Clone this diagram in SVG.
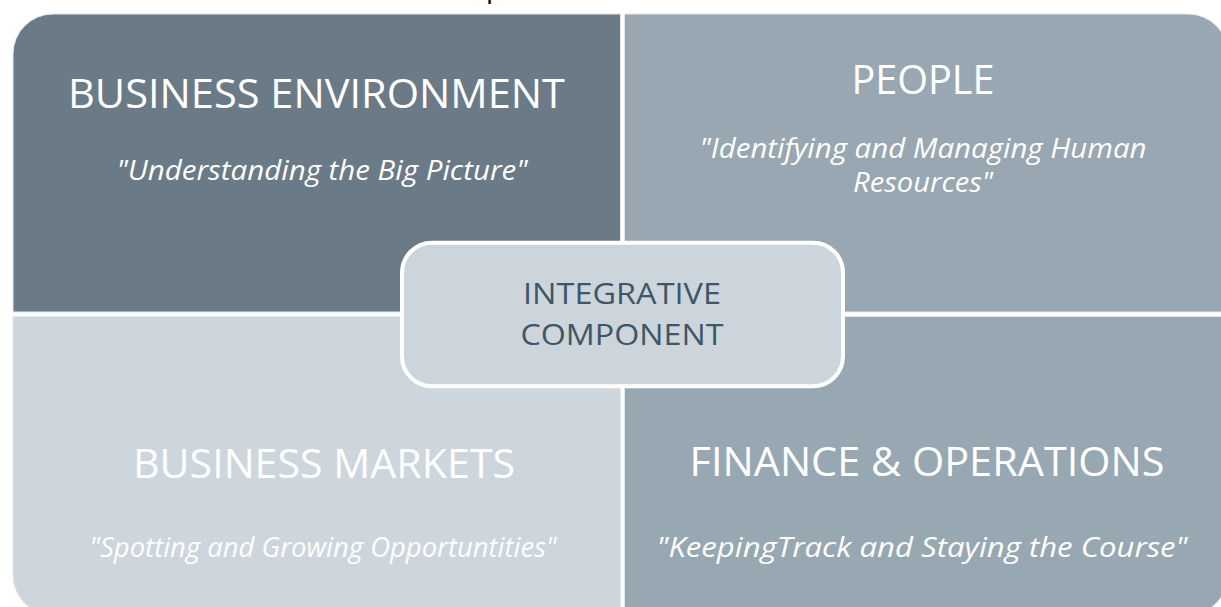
<svg xmlns="http://www.w3.org/2000/svg" width="1221" height="607" viewBox="0 0 1221 607">
  <style>
    .title { font-family: "Open Sans", "Liberation Sans", sans-serif; font-size: 41px; fill: #ffffff; text-anchor: middle; }
    .quote { font-family: "Open Sans", "Liberation Sans", sans-serif; font-size: 27px; font-style: italic; fill: #ffffff; text-anchor: middle; }
    .core { font-family: "Open Sans", "Liberation Sans", sans-serif; font-size: 30px; fill: #3f5666; text-anchor: middle; }
    .quad { stroke: #e3e8ec; stroke-width: 1; }
  </style>
  <rect width="1221" height="607" fill="#ffffff"/>
  <!-- heading above the grid, clipped by the top edge -->
  <text x="486" y="-3" font-family="Open Sans, Liberation Sans, sans-serif" font-size="28" fill="#000000">p</text>

  <!-- top-left quadrant -->
  <g id="business-environment">
    <path class="quad" d="M13,54 A40,40 0 0 1 53,14 L620.5,14 L620.5,312 L13,312 Z" fill="#6b7a87"/>
    <text class="title" x="316.5" y="108" textLength="497" lengthAdjust="spacingAndGlyphs">BUSINESS ENVIRONMENT</text>
    <text class="quote" x="322" y="180" textLength="411" lengthAdjust="spacingAndGlyphs">"Understanding the Big Picture"</text>
  </g>

  <!-- top-right quadrant -->
  <g id="people">
    <path class="quad" d="M624.5,14 L1188,14 A40,40 0 0 1 1228,54 L1228,312 L624.5,312 Z" fill="#98a7b1"/>
    <text class="title" x="923" y="94" textLength="143" lengthAdjust="spacingAndGlyphs">PEOPLE</text>
    <text class="quote" x="923" y="158" textLength="447" lengthAdjust="spacingAndGlyphs">"Identifying and Managing Human</text>
    <text class="quote" x="923" y="192" textLength="140" lengthAdjust="spacingAndGlyphs">Resources"</text>
  </g>

  <!-- bottom-left quadrant -->
  <g id="business-markets">
    <path class="quad" d="M13,316.5 L620.5,316.5 L620.5,615 L53,615 A40,40 0 0 1 13,575 Z" fill="#cdd5dd"/>
    <text class="title" x="324" y="478" textLength="382" lengthAdjust="spacingAndGlyphs">BUSINESS MARKETS</text>
    <text class="quote" x="323" y="557" textLength="467" lengthAdjust="spacingAndGlyphs">"Spotting and Growing Opportuntities"</text>
  </g>

  <!-- bottom-right quadrant -->
  <g id="finance-operations">
    <path class="quad" d="M624.5,316.5 L1228,316.5 L1228,575 A40,40 0 0 1 1188,615 L624.5,615 Z" fill="#98a8b2"/>
    <text class="title" x="927" y="476" textLength="475" lengthAdjust="spacingAndGlyphs">FINANCE &amp; OPERATIONS</text>
    <text class="quote" x="922" y="557" textLength="531" lengthAdjust="spacingAndGlyphs">"KeepingTrack and Staying the Course"</text>
  </g>

  <!-- central integrating box -->
  <g id="integrative-component">
    <rect x="402" y="242.7" width="441" height="143.6" rx="30" ry="30" fill="#cdd5dc" stroke="#ffffff" stroke-width="4"/>
    <text class="core" x="622" y="304" textLength="198" lengthAdjust="spacingAndGlyphs">INTEGRATIVE</text>
    <text class="core" x="622" y="345" textLength="203" lengthAdjust="spacingAndGlyphs">COMPONENT</text>
  </g>

  <g id="connectors"/>
</svg>
